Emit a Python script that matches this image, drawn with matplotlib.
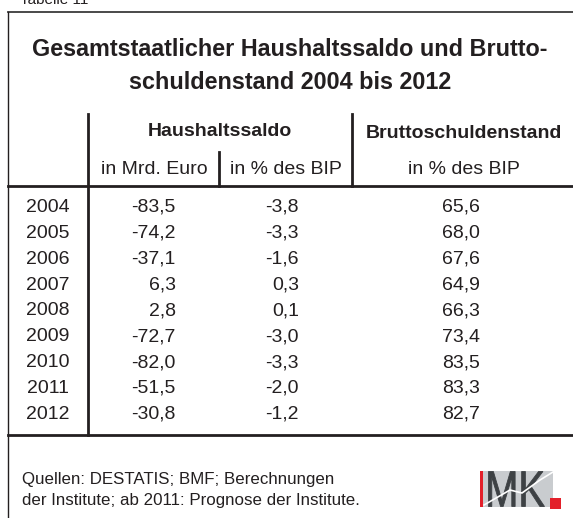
import matplotlib.pyplot as plt
from matplotlib.patches import Rectangle, PathPatch
from matplotlib.textpath import TextPath
from matplotlib.font_manager import FontProperties
from matplotlib.transforms import Affine2D

# Tabellendaten
years = [2004, 2005, 2006, 2007, 2008, 2009, 2010, 2011, 2012]
saldo_mrd = [-83.5, -74.2, -37.1, 6.3, 2.8, -72.7, -82.0, -51.5, -30.8]
saldo_bip = [-3.8, -3.3, -1.6, 0.3, 0.1, -3.0, -3.3, -2.0, -1.2]
schulden_bip = [65.6, 68.0, 67.6, 64.9, 66.3, 73.4, 83.5, 83.3, 82.7]

title = 'Gesamtstaatlicher Haushaltssaldo und Brutto-\nschuldenstand 2004 bis 2012'
source = 'Quellen: DESTATIS; BMF; Berechnungen\nder Institute; ab 2011: Prognose der Institute.'

ink = '#231f20'
plt.rcParams['font.family'] = ['Liberation Sans', 'DejaVu Sans']


def fmt(v):
    return f'{v:.1f}'.replace('.', ',')


W, H = 573, 518
fig = plt.figure(figsize=(W / 100, H / 100), dpi=100)
ax = fig.add_axes([0, 0, 1, 1])
ax.set_xlim(0, W)
ax.set_ylim(H, 0)
ax.axis('off')

# Rahmen
ax.plot([8, W], [11.5, 11.5], color='#3c3c3c', lw=1.3)
ax.plot([8, 8], [11.5, H], color=ink, lw=1.0)
ax.plot([8, W], [186, 186], color=ink, lw=2.0)
ax.plot([8, W], [435, 435], color=ink, lw=2.0)
ax.plot([87.5, 87.5], [114, 435], color=ink, lw=2.0)
ax.plot([352, 352], [114, 186], color=ink, lw=2.0)
ax.plot([219, 219], [152, 186], color=ink, lw=2.0)

ax.text(20, 3.5, 'Tabelle 11', fontsize=11, color=ink, va='baseline')

ax.text(290, 66, title, fontsize=16.8, fontweight='bold', color=ink,
        ha='center', va='center', linespacing=1.6)

# Spaltenköpfe
fs = 14
ax.text(220, 131, 'Haushaltssaldo', fontsize=fs, fontweight='bold', color=ink,
        ha='center', va='center')
ax.text(464, 133, 'Bruttoschuldenstand', fontsize=fs, fontweight='bold', color=ink,
        ha='center', va='center')
ax.text(154, 170, 'in Mrd. Euro', fontsize=fs, color=ink, ha='center', va='center')
ax.text(286, 170, 'in % des BIP', fontsize=fs, color=ink, ha='center', va='center')
ax.text(464, 170, 'in % des BIP', fontsize=fs, color=ink, ha='center', va='center')

# Zeilen
y0, step = 207.5, 25.85
for i, yr in enumerate(years):
    y = y0 + i * step
    ax.text(48, y, str(yr), fontsize=fs, color=ink, ha='center', va='center')
    ax.text(176, y, fmt(saldo_mrd[i]), fontsize=fs, color=ink, ha='right', va='center')
    ax.text(299, y, fmt(saldo_bip[i]), fontsize=fs, color=ink, ha='right', va='center')
    ax.text(480, y, fmt(schulden_bip[i]), fontsize=fs, color=ink, ha='right', va='center')

# Quellen
ax.text(22, 490, source, fontsize=12.2, color=ink, ha='left', va='center', linespacing=1.5)

# IMK-Logo
ax.add_patch(Rectangle((480, 471), 73, 36, facecolor='#c9cccf', edgecolor='none'))
ax.plot([484, 510, 522, 540, 553], [505, 490, 493, 480, 472], color='white', lw=1.2)
ax.add_patch(Rectangle((480, 471), 3, 36, facecolor='#e3202a', edgecolor='none'))
ax.add_patch(Rectangle((550, 498), 11, 11, facecolor='#e3202a', edgecolor='none'))
tp = TextPath((0, 0), 'MK', size=1, prop=FontProperties(family='Liberation Sans'))
ext = tp.get_extents()
sx = 56 / ext.width
sy = 35 / ext.height
tr = Affine2D().translate(-ext.x0, -ext.y0).scale(sx, -sy).translate(488.5, 506.5)
ax.add_patch(PathPatch(tr.transform_path(tp), facecolor='#3d4144', edgecolor='#3d4144', lw=0.6))

fig.savefig('out.png', dpi=100)
